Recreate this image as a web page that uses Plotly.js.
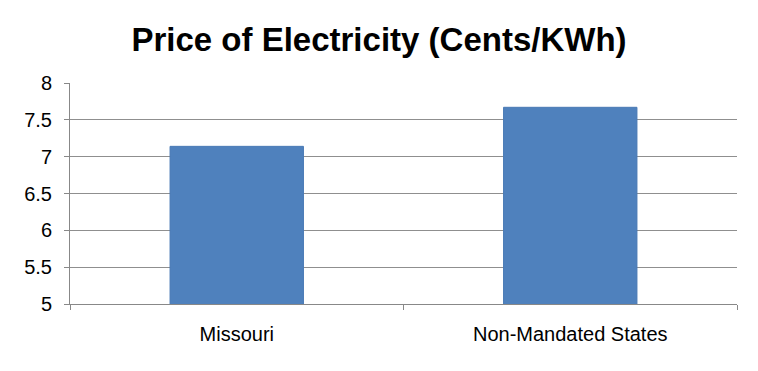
<!DOCTYPE html>
<html>
<head>
<meta charset="utf-8">
<script src="https://cdn.plot.ly/plotly-3.0.1.min.js"></script>
<style>html,body{margin:0;padding:0;background:#fff}#chart{width:758px;height:371px}</style>
</head>
<body>
<div id="chart"></div>
<script>
const categories = ["Missouri", "Non-Mandated States"];
const prices = [7.14, 7.67];
const yTicks = [5, 5.5, 6, 6.5, 7, 7.5, 8];
const yTickText = ["5", "5.5", "6", "6.5", "7", "7.5", "8"];
const titleText = "Price of Electricity (Cents/KWh)";

const data = [{
  type: "bar",
  x: categories,
  y: prices,
  marker: {color: "#4F81BD", line: {color: "#4A7AB5", width: 1}},
  hoverinfo: "none"
}];

const layout = {
  width: 758, height: 371,
  margin: {l: 70, r: 21, t: 82.5, b: 66.5},
  paper_bgcolor: "#fff", plot_bgcolor: "#fff",
  showlegend: false,
  bargap: 0.6,
  title: {
    text: "<b>" + titleText + "</b>",
    font: {family: "Liberation Sans, Arial, sans-serif", size: 33, color: "#000"},
    x: 0.5, xanchor: "center", y: 0.893, yanchor: "middle", yref: "container"
  },
  xaxis: {
    type: "category",
    tickson: "boundaries",
    ticks: "outside", ticklen: 5, tickcolor: "#888", tickwidth: 1,
    showline: true, linecolor: "#888", linewidth: 1,
    showgrid: false, zeroline: false,
    tickfont: {family: "Liberation Sans, Arial, sans-serif", size: 20, color: "#000"},
    ticklabelstandoff: 12
  },
  yaxis: {
    range: [5, 8],
    tickvals: yTicks, ticktext: yTickText,
    ticks: "outside", ticklen: 5, tickcolor: "#888", tickwidth: 1,
    showline: true, linecolor: "#888", linewidth: 1,
    showgrid: true, gridcolor: "#8f8f8f", gridwidth: 1,
    zeroline: false,
    tickfont: {family: "Liberation Sans, Arial, sans-serif", size: 20, color: "#000"},
    ticklabelstandoff: 8
  }
};

Plotly.newPlot("chart", data, layout, {displayModeBar: false, staticPlot: true});
</script>
</body>
</html>
